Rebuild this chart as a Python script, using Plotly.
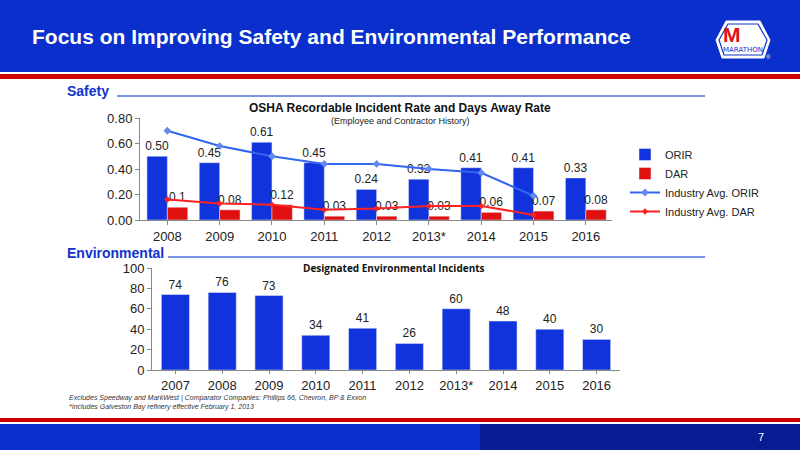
import plotly.graph_objects as go

years_top = ["2008", "2009", "2010", "2011", "2012", "2013*", "2014", "2015", "2016"]
orir = [0.50, 0.45, 0.61, 0.45, 0.24, 0.32, 0.41, 0.41, 0.33]
dar = [0.10, 0.08, 0.12, 0.03, 0.03, 0.03, 0.06, 0.07, 0.08]
dar_labels = ["0.1", "0.08", "0.12", "0.03", "0.03", "0.03", "0.06", "0.07", "0.08"]
ind_orir = [0.70, 0.58, 0.50, 0.44, 0.44, 0.40, 0.37, 0.19]
ind_dar = [0.16, 0.13, 0.12, 0.08, 0.09, 0.11, 0.11, 0.04]

years_env = ["2007", "2008", "2009", "2010", "2011", "2012", "2013*", "2014", "2015", "2016"]
incidents = [74, 76, 73, 34, 41, 26, 60, 48, 40, 30]

BLUE = "#1133dd"
RED = "#e01010"
W, H = 800, 450


def px(x):
    return x / W


def py(y):
    return 1 - y / H


fig = go.Figure()
fig.add_trace(go.Bar(x=years_top, y=orir, name="ORIR", marker_color=BLUE,
                     text=[f"{v:.2f}" for v in orir], textposition="outside",
                     constraintext="none",
                     textfont=dict(size=12, color="#222"), cliponaxis=False))
fig.add_trace(go.Bar(x=years_top, y=dar, name="DAR", marker_color=RED,
                     text=dar_labels, textposition="outside", constraintext="none",
                     textfont=dict(size=12, color="#222"), cliponaxis=False))
fig.add_trace(go.Scatter(x=years_top[:8], y=ind_orir, name="Industry Avg. ORIR",
                         mode="lines+markers", line=dict(color="#3366ee", width=2),
                         marker=dict(symbol="diamond", size=6, color="#6688ee")))
fig.add_trace(go.Scatter(x=years_top[:8], y=ind_dar, name="Industry Avg. DAR",
                         mode="lines+markers", line=dict(color="#ff2222", width=2),
                         marker=dict(symbol="diamond", size=5, color="#ff2222")))
fig.add_trace(go.Bar(x=years_env, y=incidents, marker_color=BLUE, showlegend=False,
                     text=incidents, textposition="outside", width=0.6,
                     constraintext="none",
                     textfont=dict(size=12, color="#222"), cliponaxis=False,
                     xaxis="x2", yaxis="y2"))

tick = dict(size=13, color="#222", family="Liberation Sans")
fig.update_layout(
    width=W, height=H, margin=dict(l=0, r=0, t=0, b=0, pad=0, autoexpand=False),
    paper_bgcolor="white", plot_bgcolor="white", barmode="group",
    bargap=0.22, bargroupgap=0.0, showlegend=True,
    font=dict(family="Liberation Sans"),
    xaxis=dict(domain=[px(140), px(612)], showline=True, linecolor="#888",
               ticks="outside", ticklen=4, tickcolor="#888", tickfont=tick),
    yaxis=dict(domain=[py(220), py(118)], range=[0, 0.8], dtick=0.2,
               tickformat=".2f", showgrid=False, showline=True, linecolor="#888",
               ticks="outside", ticklen=4, tickcolor="#888", tickfont=tick, zeroline=False),
    xaxis2=dict(domain=[px(152), px(620)], anchor="y2", showline=True,
                linecolor="#888", ticks="outside", ticklen=3, tickcolor="#888",
                tickfont=tick),
    yaxis2=dict(domain=[py(370), py(268)], anchor="x2", range=[0, 100], dtick=20,
                showgrid=False, showline=True, linecolor="#888", ticks="outside",
                ticklen=4, tickcolor="#888", tickfont=tick, zeroline=False),
    legend=dict(x=px(625), y=py(140), xanchor="left", yanchor="top",
                font=dict(size=11, color="#222"), tracegroupgap=4,
                bgcolor="rgba(0,0,0,0)"),
)

logo = [(726, 21), (760, 21), (770, 40), (764, 58), (722, 58), (716, 40)]
logo_in = [(728, 24), (758, 24), (767, 40), (762, 55), (724, 55), (719, 40)]


def hexpath(pts):
    return "M " + " L ".join(f"{px(x)},{py(y)}" for x, y in pts) + " Z"


shapes = [
    dict(type="rect", xref="paper", yref="paper", x0=0, x1=1, y0=py(72), y1=1,
         fillcolor="#0a2fcc", line_width=0, layer="below"),
    dict(type="rect", xref="paper", yref="paper", x0=0, x1=1, y0=py(79), y1=py(74),
         fillcolor="#cc0000", line_width=0),
    dict(type="rect", xref="paper", yref="paper", x0=0, x1=1, y0=py(422), y1=py(418),
         fillcolor="#cc0000", line_width=0),
    dict(type="rect", xref="paper", yref="paper", x0=0, x1=1, y0=0, y1=py(424),
         fillcolor="#0a2fcc", line_width=0),
    dict(type="rect", xref="paper", yref="paper", x0=0.6, x1=1, y0=0, y1=py(424),
         fillcolor="#05106a", opacity=0.6, line_width=0),
    dict(type="line", xref="paper", yref="paper", x0=px(117), x1=px(705),
         y0=py(96), y1=py(96), line=dict(color="#4a6fe0", width=1.5)),
    dict(type="line", xref="paper", yref="paper", x0=px(168), x1=px(705),
         y0=py(257), y1=py(257), line=dict(color="#4a6fe0", width=1.5)),
    dict(type="path", xref="paper", yref="paper", path=hexpath(logo),
         fillcolor="white", line=dict(color="white", width=1)),
    dict(type="path", xref="paper", yref="paper", path=hexpath(logo_in),
         fillcolor="white", line=dict(color="#1133cc", width=1.2)),
]

ann = [
    dict(text="<b>Focus on Improving Safety and Environmental Performance</b>",
         x=px(30), y=py(37), xanchor="left", font=dict(size=21, color="white")),
    dict(text="<b>M</b>", x=px(743), y=py(35), font=dict(size=21, color="#dd1111",
         family="Liberation Sans")),
    dict(text="MARATHON", x=px(743), y=py(50), xanchor="center",
         font=dict(size=7, color="#1133cc", family="DejaVu Sans")),
    dict(text="®", x=px(773), y=py(57), font=dict(size=6, color="white")),
    dict(text="<b>Safety</b>", x=px(65), y=py(91), xanchor="left",
         font=dict(size=14, color="#1133cc")),
    dict(text="<b>Environmental</b>", x=px(65), y=py(253), xanchor="left",
         font=dict(size=14, color="#1133cc")),
    dict(text="<b>OSHA Recordable Incident Rate and Days Away Rate</b>",
         x=px(400), y=py(108), font=dict(size=12, color="#111")),
    dict(text="(Employee and Contractor History)", x=px(400), y=py(121),
         font=dict(size=9, color="#222")),
    dict(text="<b>Designated Environmental Incidents</b>", x=px(394), y=py(268),
         font=dict(size=10, color="#111", family="Open Sans")),
    dict(text="<i>Excludes Speedway and MarkWest | Comparator Companies: Phillips 66, "
              "Chevron, BP & Exxon<br>*Includes Galveston Bay refinery effective "
              "February 1, 2013</i>",
         x=px(67), y=py(402), xanchor="left", align="left",
         font=dict(size=7, color="#333")),
    dict(text="7", x=px(766), y=py(437), font=dict(size=11, color="white")),
]
for a in ann:
    a.update(xref="paper", yref="paper", showarrow=False, yanchor="middle")
fig.update_layout(shapes=shapes, annotations=ann)

fig.write_html("out.html", config={"displayModeBar": False},
               post_script="document.body.style.margin='0';")
